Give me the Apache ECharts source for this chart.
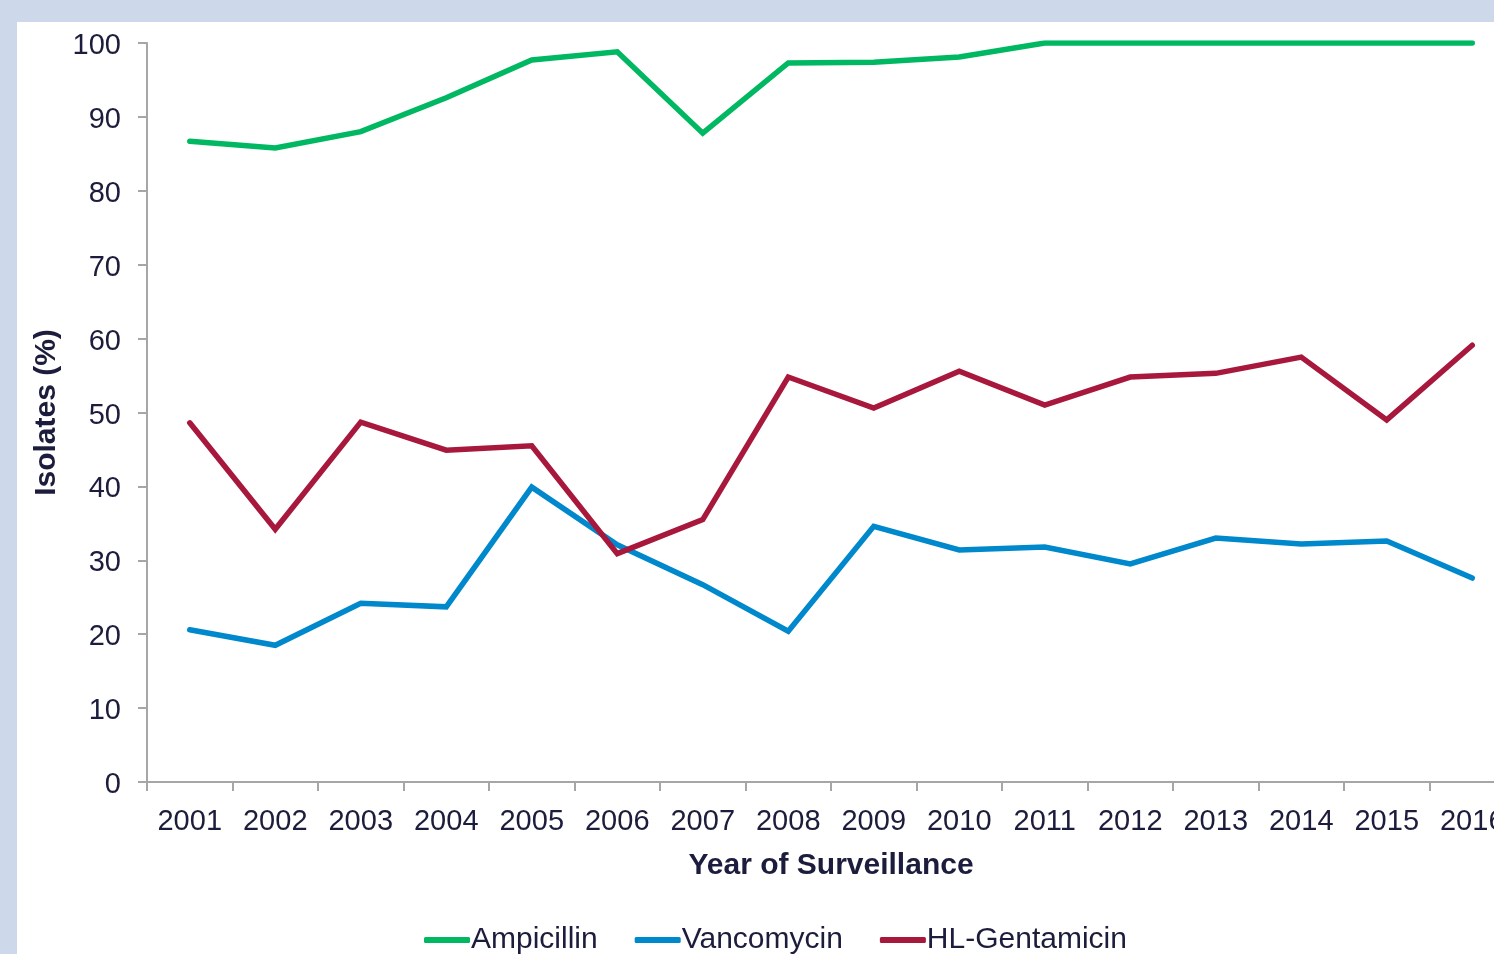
<!DOCTYPE html>
<html>
<head>
<meta charset="utf-8">
<script src="https://cdn.jsdelivr.net/npm/echarts@6/dist/echarts.min.js"></script>
<style>
  html, body { margin: 0; padding: 0; width: 1494px; height: 954px; overflow: hidden; background: #cdd9ea; }
  #chart { position: absolute; left: 17px; top: 22px; width: 1600px; height: 1000px; background: #ffffff; }
</style>
</head>
<body>
<div id="chart"></div>
<script>
// Resistance among isolates by year of surveillance
const years = ['2001','2002','2003','2004','2005','2006','2007','2008','2009','2010','2011','2012','2013','2014','2015','2016'];
const ampicillin   = [86.7, 85.8, 88.0, 92.6, 97.7, 98.8, 87.8, 97.3, 97.4, 98.1, 100, 100, 100, 100, 100, 100];
const vancomycin   = [20.6, 18.5, 24.2, 23.7, 39.9, 32.1, 26.7, 20.4, 34.6, 31.4, 31.8, 29.5, 33.0, 32.2, 32.6, 27.6];
const hlGentamicin = [48.6, 34.2, 48.7, 44.9, 45.5, 30.9, 35.5, 54.8, 50.6, 55.6, 51.0, 54.8, 55.3, 57.5, 49.0, 59.1];
const yTicks = [0, 10, 20, 30, 40, 50, 60, 70, 80, 90, 100];

const textColor = '#1c1c3c';
const axisGray = '#a6a6a6';
const fontFamily = 'Liberation Sans, Arial, sans-serif';

const chart = echarts.init(document.getElementById('chart'), null, { renderer: 'canvas' });

function lineSeries(name, data, color) {
  return {
    name: name,
    type: 'line',
    data: data,
    symbol: 'none',
    smooth: false,
    lineStyle: { color: color, width: 5.5, cap: 'round', join: 'miter' },
    itemStyle: { color: color },
    emphasis: { disabled: true }
  };
}

chart.setOption({
  animation: false,
  textStyle: { fontFamily: fontFamily },
  grid: { left: 130, top: 21, right: 102, bottom: 240, containLabel: false },
  legend: {
    left: 407,
    top: 903,
    padding: 0,
    itemWidth: 46,
    itemHeight: 6,
    itemGap: 37,
    icon: 'roundRect',
    textStyle: { color: textColor, fontSize: 30, fontFamily: fontFamily, padding: [0, 0, 0, -4] },
    data: ['Ampicillin', 'Vancomycin', 'HL-Gentamicin']
  },
  xAxis: {
    type: 'category',
    data: years,
    boundaryGap: true,
    name: 'Year of Surveillance',
    nameLocation: 'middle',
    nameGap: 69,
    nameTextStyle: { color: textColor, fontSize: 30, fontWeight: 'bold', fontFamily: fontFamily },
    axisLine: { lineStyle: { color: axisGray, width: 2 } },
    axisTick: { show: true, length: 9, alignWithLabel: false, lineStyle: { color: axisGray, width: 2 } },
    axisLabel: { color: textColor, fontSize: 29, margin: 25, interval: 0, fontFamily: fontFamily },
    splitLine: { show: false }
  },
  yAxis: {
    type: 'value',
    min: yTicks[0],
    max: yTicks[yTicks.length - 1],
    interval: 10,
    name: 'Isolates (%)',
    nameLocation: 'middle',
    nameGap: 76,
    nameRotate: 90,
    nameTextStyle: { color: textColor, fontSize: 30, fontWeight: 'bold', fontFamily: fontFamily },
    axisLine: { show: true, lineStyle: { color: axisGray, width: 2 } },
    axisTick: { show: true, length: 9, lineStyle: { color: axisGray, width: 2 } },
    axisLabel: { color: textColor, fontSize: 29, margin: 26, verticalAlign: 'top', lineHeight: 6, fontFamily: fontFamily },
    splitLine: { show: false }
  },
  series: [
    lineSeries('Ampicillin', ampicillin, '#00b862'),
    lineSeries('Vancomycin', vancomycin, '#0088cc'),
    lineSeries('HL-Gentamicin', hlGentamicin, '#a8183c')
  ]
});
</script>
</body>
</html>
